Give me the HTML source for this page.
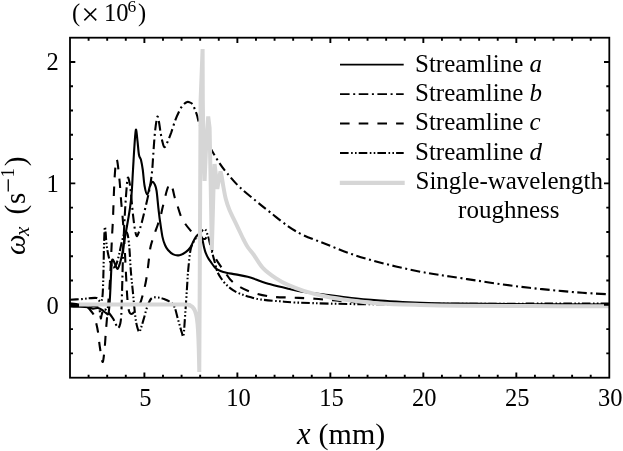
<!DOCTYPE html>
<html><head><meta charset="utf-8"><style>
html,body{margin:0;padding:0;background:#fff;}
svg{display:block;will-change:transform;}
text{font-family:"Liberation Serif",serif;fill:#000;}
</style></head><body>
<svg width="623" height="451" viewBox="0 0 623 451">
<rect x="0" y="0" width="623" height="451" fill="#fff"/>
<g fill="none" stroke-linejoin="round">
<path d="M70.0,306.5 C71.7,306.6 77.0,306.7 80.0,306.8 C83.0,306.9 85.8,307.0 88.0,307.3 C90.2,307.6 91.3,308.5 93.0,308.6 C94.7,308.7 96.5,307.8 98.0,308.0 C99.5,308.2 100.7,309.2 102.0,310.0 C103.3,310.8 104.9,312.4 106.0,313.0 C107.1,313.6 107.9,315.7 108.5,313.5 C109.1,311.3 109.4,305.6 109.8,300.0 C110.2,294.4 110.5,286.2 110.8,280.0 C111.1,273.8 111.4,266.4 111.7,263.0 C112.0,259.6 112.3,259.4 112.8,259.5 C113.3,259.6 114.0,261.9 114.8,263.5 C115.6,265.1 116.6,269.1 117.5,269.0 C118.4,268.9 119.2,265.3 120.0,263.0 C120.8,260.7 121.3,258.3 122.0,255.0 C122.7,251.7 123.2,247.8 124.0,243.0 C124.8,238.2 126.0,231.5 127.0,226.0 C128.0,220.5 128.9,215.2 129.7,210.0 C130.4,204.8 130.9,201.7 131.5,195.0 C132.1,188.3 132.5,178.3 133.0,170.0 C133.5,161.7 134.0,151.8 134.5,145.0 C135.0,138.2 135.4,130.2 135.9,129.5 C136.4,128.8 137.0,136.8 137.5,141.0 C138.0,145.2 138.4,151.8 139.0,155.0 C139.6,158.2 140.4,157.5 141.0,160.0 C141.6,162.5 142.2,165.7 142.8,170.0 C143.4,174.3 143.8,181.9 144.6,186.0 C145.3,190.1 146.4,194.5 147.3,194.5 C148.2,194.5 149.1,188.1 150.0,186.0 C150.9,183.9 151.8,182.0 152.6,181.8 C153.4,181.6 154.3,183.5 155.0,185.0 C155.7,186.5 156.0,187.0 156.6,191.0 C157.2,195.0 157.9,204.0 158.5,209.0 C159.1,214.0 159.3,216.4 160.0,221.0 C160.7,225.6 161.6,232.6 162.4,236.6 C163.2,240.6 164.1,242.8 165.0,245.0 C165.9,247.2 166.6,248.4 168.0,250.0 C169.4,251.6 171.4,253.5 173.3,254.4 C175.2,255.3 177.4,255.6 179.5,255.2 C181.6,254.8 183.9,253.4 185.7,252.1 C187.5,250.8 189.0,249.5 190.4,247.4 C191.8,245.3 193.1,241.7 194.2,239.7 C195.3,237.7 196.1,236.4 197.0,235.5 C197.9,234.6 198.7,233.6 199.5,234.0 C200.3,234.4 201.2,235.8 202.0,238.0 C202.8,240.2 203.4,244.6 204.0,247.0 C204.6,249.4 204.8,250.6 205.5,252.4 C206.2,254.2 207.1,256.1 208.0,257.8 C208.9,259.5 210.1,261.0 211.1,262.4 C212.1,263.8 213.0,265.1 214.0,266.3 C215.0,267.5 215.6,268.4 217.2,269.3 C218.8,270.2 220.2,271.1 223.3,272.0 C226.4,272.9 231.4,273.6 235.5,274.4 C239.6,275.2 244.3,275.9 247.7,276.8 C251.1,277.7 252.2,278.2 256.0,279.5 C259.8,280.8 265.0,282.8 270.4,284.3 C275.8,285.8 282.6,287.4 288.2,288.7 C293.8,290.0 297.4,291.0 303.7,292.0 C309.9,293.0 317.8,293.8 325.7,294.8 C333.6,295.8 342.3,297.0 351.4,298.0 C360.4,299.0 371.4,299.9 380.0,300.6 C388.6,301.3 394.6,301.6 402.7,302.0 C410.8,302.4 418.8,302.7 428.4,303.0 C437.9,303.3 443.1,303.4 460.0,303.6 C476.9,303.8 505.2,304.1 530.0,304.2 C554.8,304.3 595.8,304.4 609.0,304.5" stroke="#000" stroke-width="2.1"/>
<path d="M70.0,305.5 C73.3,305.6 85.7,305.7 90.0,305.8 C94.3,305.9 94.5,305.8 96.0,306.2 C97.5,306.6 98.1,306.9 98.8,308.0 C99.5,309.1 99.8,311.2 100.1,313.0 C100.4,314.8 100.5,318.2 100.8,318.5 C101.1,318.8 101.3,315.9 101.8,314.5 C102.2,313.1 102.8,310.6 103.5,309.8 C104.2,309.0 105.1,309.3 106.0,309.8 C106.9,310.3 107.8,311.5 109.0,313.0 C110.2,314.5 112.1,317.1 113.2,318.8 C114.3,320.6 114.7,322.0 115.5,323.5 C116.3,325.0 117.2,328.0 118.0,328.0 C118.8,328.0 119.8,325.7 120.3,323.5 C120.8,321.3 121.0,318.9 121.3,315.0 C121.5,311.1 121.6,305.5 121.8,300.0 C122.0,294.5 122.1,288.3 122.3,282.0 C122.5,275.7 122.6,269.0 122.8,262.0 C123.0,255.0 123.3,247.8 123.6,240.0 C123.9,232.2 124.3,223.0 124.8,215.0 C125.2,207.0 125.8,198.2 126.3,192.0 C126.8,185.8 127.2,179.7 127.7,178.0 C128.2,176.3 128.8,179.3 129.4,182.0 C130.0,184.7 130.4,188.2 131.0,194.0 C131.6,199.8 132.5,210.5 133.2,216.5 C133.9,222.5 134.4,226.8 135.0,230.0 C135.6,233.2 136.0,235.5 136.6,236.0 C137.2,236.5 137.8,234.8 138.5,233.0 C139.2,231.2 139.8,229.5 141.0,225.3 C142.2,221.1 143.9,213.9 145.4,207.6 C146.9,201.3 148.7,193.6 149.8,187.7 C150.9,181.8 151.4,177.6 152.0,172.0 C152.6,166.4 152.8,161.0 153.3,154.0 C153.8,147.0 154.5,136.2 155.2,130.0 C155.9,123.8 156.8,118.1 157.4,116.8 C158.0,115.5 158.5,119.4 159.0,122.0 C159.5,124.6 160.0,129.3 160.6,132.6 C161.2,135.9 161.8,139.6 162.5,142.0 C163.2,144.4 163.7,147.2 164.5,147.2 C165.3,147.2 166.4,144.4 167.5,142.0 C168.6,139.6 169.9,136.1 171.2,132.6 C172.4,129.1 173.7,124.5 175.0,121.0 C176.3,117.5 177.9,114.0 179.2,111.3 C180.5,108.6 181.7,106.5 183.0,105.0 C184.3,103.5 186.0,102.4 187.2,102.0 C188.4,101.6 189.3,102.2 190.3,102.6 C191.3,103.0 192.2,103.4 193.0,104.6 C193.8,105.8 194.3,108.2 195.0,110.0 C195.7,111.8 196.3,113.1 197.0,115.3 C197.7,117.5 198.0,120.2 199.0,123.0 C200.0,125.8 201.7,129.0 203.0,132.0 C204.3,135.0 205.7,138.1 207.0,141.0 C208.3,143.9 209.1,145.6 211.1,149.2 C213.1,152.8 216.4,158.5 219.1,162.5 C221.8,166.5 223.6,169.0 227.1,173.2 C230.6,177.4 235.2,182.9 240.0,187.5 C244.8,192.1 250.9,196.8 256.0,201.0 C261.1,205.2 265.0,208.3 270.4,212.5 C275.8,216.7 282.6,222.5 288.2,226.3 C293.8,230.1 297.4,232.4 303.7,235.3 C309.9,238.2 317.8,240.9 325.7,244.0 C333.6,247.1 342.8,251.1 351.4,254.0 C359.9,256.9 368.4,259.4 377.0,261.7 C385.6,264.0 394.1,266.1 402.7,268.0 C411.3,269.9 420.5,271.8 428.4,273.2 C436.3,274.6 442.0,275.3 450.0,276.5 C458.0,277.7 467.7,279.2 476.5,280.5 C485.3,281.8 494.2,283.3 503.0,284.5 C511.8,285.7 520.6,286.8 529.4,287.8 C538.2,288.8 547.2,289.7 556.0,290.5 C564.8,291.3 573.6,292.2 582.4,292.8 C591.2,293.4 604.6,294.1 609.0,294.3" stroke="#000" stroke-width="2.1" stroke-dasharray="9.6 3.6 2 3.5"/>
<path d="M69.5,303.3 C71.0,303.5 76.2,304.1 78.8,304.5 C81.4,304.9 83.4,304.9 85.0,305.5 C86.6,306.1 87.4,307.1 88.4,308.0 C89.4,308.9 90.1,309.8 91.0,311.0 C91.9,312.2 92.9,312.8 93.8,315.0 C94.7,317.2 95.7,321.2 96.4,324.0 C97.1,326.8 97.4,328.0 98.0,332.0 C98.6,336.0 99.2,343.0 100.0,348.0 C100.8,353.0 101.8,361.7 102.6,362.0 C103.3,362.3 103.9,355.3 104.5,350.0 C105.1,344.7 105.4,337.3 106.0,330.0 C106.6,322.7 107.3,314.3 108.0,306.0 C108.7,297.7 109.3,291.5 110.0,280.0 C110.7,268.5 111.5,247.3 112.0,237.0 C112.5,226.7 112.6,227.8 113.0,218.0 C113.4,208.2 114.0,187.8 114.6,178.0 C115.2,168.2 116.0,159.0 116.8,159.5 C117.6,160.0 118.8,173.8 119.6,181.0 C120.3,188.2 120.7,196.2 121.3,203.0 C121.9,209.8 122.4,214.2 123.0,222.0 C123.6,229.8 124.2,240.3 124.8,250.0 C125.3,259.7 125.8,271.7 126.3,280.0 C126.8,288.3 127.0,294.8 127.5,300.0 C128.0,305.2 128.3,308.7 129.0,311.0 C129.7,313.3 130.5,314.0 131.5,314.0 C132.5,314.0 133.6,312.7 135.0,311.0 C136.4,309.3 138.6,306.9 140.0,303.7 C141.4,300.5 142.4,296.3 143.5,292.0 C144.6,287.7 145.7,283.0 146.5,278.0 C147.3,273.0 148.0,267.0 148.6,262.0 C149.2,257.0 149.7,251.7 150.3,248.0 C151.0,244.3 151.7,242.6 152.5,240.0 C153.3,237.4 154.1,235.2 155.0,232.5 C155.9,229.8 157.1,226.8 158.0,224.0 C158.9,221.2 159.9,218.4 160.7,215.7 C161.5,212.9 162.0,210.1 162.6,207.5 C163.2,204.9 163.8,202.9 164.5,200.0 C165.2,197.1 166.1,192.7 167.0,190.0 C167.9,187.3 168.8,184.1 169.7,183.8 C170.6,183.6 171.7,186.2 172.5,188.5 C173.3,190.8 174.0,195.1 174.8,197.8 C175.6,200.5 176.2,201.6 177.2,204.7 C178.2,207.8 179.7,213.3 181.0,216.4 C182.3,219.5 183.4,221.2 185.0,223.5 C186.6,225.8 188.7,228.4 190.4,230.4 C192.1,232.4 193.4,234.2 195.0,235.5 C196.6,236.8 198.3,237.4 200.0,238.0 C201.7,238.6 203.6,239.3 205.0,239.0 C206.4,238.7 207.3,233.8 208.6,236.0 C209.9,238.2 211.4,248.2 212.6,252.0 C213.8,255.8 214.8,256.8 216.0,259.0 C217.2,261.2 218.6,263.3 219.9,265.2 C221.2,267.1 221.8,267.7 223.9,270.5 C226.0,273.3 228.6,278.6 232.7,282.0 C236.8,285.4 242.0,288.6 248.3,291.0 C254.6,293.4 263.0,295.4 270.4,296.5 C277.8,297.6 285.2,297.2 292.6,297.6 C300.0,298.0 307.1,298.1 315.0,298.7 C322.9,299.3 329.2,300.2 340.0,301.0 C350.8,301.8 361.7,302.9 380.0,303.5 C398.3,304.1 411.8,304.3 450.0,304.5 C488.2,304.7 582.5,304.8 609.0,304.8" stroke="#000" stroke-width="2.1" stroke-dasharray="9.6 9.1"/>
<path d="M70.0,299.7 C71.7,299.6 76.8,299.4 80.0,299.2 C83.2,299.0 86.2,298.5 89.0,298.3 C91.8,298.1 95.0,297.6 96.7,298.0 C98.4,298.4 98.2,300.0 99.0,300.5 C99.8,301.0 100.9,302.4 101.5,301.0 C102.1,299.6 102.5,297.2 102.8,292.0 C103.1,286.8 103.3,277.8 103.5,270.0 C103.7,262.2 103.8,252.1 104.0,245.0 C104.2,237.9 104.5,229.7 104.8,227.5 C105.1,225.3 105.3,229.4 105.6,232.0 C105.9,234.6 106.0,239.2 106.4,243.0 C106.8,246.8 107.5,251.2 108.2,254.5 C108.9,257.8 109.7,260.8 110.5,263.0 C111.3,265.2 112.1,267.2 113.0,267.5 C113.9,267.8 115.0,267.1 116.0,265.0 C117.0,262.9 118.0,259.0 119.0,255.0 C120.0,251.0 121.0,244.8 122.0,241.0 C123.0,237.2 124.1,233.7 125.0,232.5 C125.9,231.3 126.8,231.6 127.5,234.0 C128.2,236.4 128.7,240.5 129.3,247.0 C129.9,253.5 130.3,264.9 131.0,273.0 C131.7,281.1 132.5,287.9 133.2,295.3 C133.9,302.7 134.7,311.9 135.4,317.4 C136.1,322.8 136.8,325.6 137.5,328.0 C138.2,330.4 138.7,332.0 139.3,332.0 C139.9,332.0 140.2,330.3 141.0,328.0 C141.8,325.7 143.0,321.4 144.0,318.0 C145.0,314.6 145.8,310.6 147.1,307.3 C148.3,304.0 149.7,300.0 151.5,298.4 C153.3,296.8 155.6,297.4 157.7,297.5 C159.8,297.6 161.9,298.2 164.0,299.0 C166.1,299.8 168.4,300.6 170.2,302.0 C172.0,303.4 173.3,304.4 174.6,307.3 C175.9,310.2 176.9,315.6 178.1,319.7 C179.3,323.8 180.8,329.5 181.7,332.1 C182.6,334.8 182.9,338.6 183.5,335.6 C184.1,332.6 184.6,322.3 185.2,314.3 C185.8,306.3 186.5,295.1 187.0,287.7 C187.5,280.3 187.6,276.2 188.2,270.0 C188.8,263.8 189.6,255.0 190.4,250.5 C191.2,246.0 192.1,245.1 193.0,243.0 C193.9,240.9 194.8,239.7 196.0,238.0 C197.2,236.3 198.8,234.3 200.0,233.0 C201.2,231.7 202.1,230.6 203.0,230.0 C203.9,229.4 204.5,228.4 205.3,229.5 C206.2,230.6 207.2,233.6 208.1,236.3 C209.0,239.1 209.8,243.1 210.5,246.0 C211.2,248.9 211.8,251.2 212.6,254.0 C213.3,256.8 214.2,260.1 215.0,263.0 C215.8,265.9 216.2,268.8 217.2,271.3 C218.2,273.8 219.5,275.9 220.9,278.0 C222.3,280.1 223.7,282.1 225.7,284.1 C227.7,286.1 230.6,288.6 233.0,290.2 C235.4,291.8 237.6,292.8 240.4,293.9 C243.2,295.0 246.8,296.1 250.1,297.0 C253.3,297.9 254.9,298.7 259.9,299.4 C264.9,300.1 273.3,300.8 280.0,301.3 C286.7,301.9 286.0,302.2 300.0,302.7 C314.0,303.2 339.0,304.0 364.0,304.2 C389.0,304.4 409.2,303.9 450.0,303.8 C490.8,303.7 582.5,303.6 609.0,303.6" stroke="#000" stroke-width="2.1" stroke-dasharray="8.6 2.5 1.6 2.3 1.6 2.1"/>
<path d="M79.0,304.4 C90.8,304.4 132.2,304.5 150.0,304.5 C167.8,304.5 179.4,304.4 186.0,304.6 C192.6,304.8 188.4,305.1 189.5,305.5 C190.6,305.9 191.6,306.1 192.5,307.0 C193.4,307.9 194.3,309.2 195.0,311.0 C195.7,312.8 196.3,314.8 196.8,318.0 C197.3,321.2 197.7,324.7 198.0,330.0 C198.3,335.3 198.6,343.0 198.8,350.0 C199.0,357.0 199.2,368.3 199.3,372.0 L200.6,100.0 L202.6,49.0 L202.8,100.0 L203.4,150.0 L204.6,181.0 L206.4,140.0 L208.2,116.5 L209.6,128.0 L210.8,190.0 L211.8,250.0 L212.6,222.0 L213.5,188.0 L214.6,164.0 L216.0,176.0 L217.3,189.0 L218.8,180.0 L220.5,171.5 C220.7,172.2 221.1,173.3 221.6,176.0 C222.1,178.7 222.8,183.7 223.5,187.5 C224.2,191.3 224.8,195.2 225.8,199.0 C226.8,202.8 227.7,205.6 229.5,210.0 C231.3,214.4 234.4,220.3 236.8,225.3 C239.2,230.3 241.9,236.3 243.8,240.0 C245.7,243.7 246.3,245.0 248.0,247.5 C249.7,250.0 251.4,251.6 253.9,255.0 C256.4,258.4 259.2,263.9 262.8,267.8 C266.4,271.7 271.4,275.2 275.7,278.1 C280.0,281.0 283.8,283.1 288.5,285.2 C293.2,287.3 297.5,288.9 303.7,290.8 C309.9,292.7 317.8,294.9 325.7,296.5 C333.6,298.1 342.3,299.3 351.4,300.5 C360.4,301.7 368.6,302.8 380.0,303.5 C391.4,304.2 406.7,304.6 420.0,305.0 C433.3,305.4 441.7,305.6 460.0,305.8 C478.3,306.0 505.2,306.0 530.0,306.1 C554.8,306.2 595.8,306.2 609.0,306.2" stroke="#d6d6d6" stroke-width="4" stroke-linejoin="miter" stroke-miterlimit="2"/>
</g>
<g stroke="#000" fill="none">
<path d="M88.60,377.70v-3.0M88.60,37.70v3.0M107.19,377.70v-3.0M107.19,37.70v3.0M125.79,377.70v-3.0M125.79,37.70v3.0M144.39,377.70v-5.3M144.39,37.70v5.3M162.99,377.70v-3.0M162.99,37.70v3.0M181.58,377.70v-3.0M181.58,37.70v3.0M200.18,377.70v-3.0M200.18,37.70v3.0M218.78,377.70v-3.0M218.78,37.70v3.0M237.37,377.70v-5.3M237.37,37.70v5.3M255.97,377.70v-3.0M255.97,37.70v3.0M274.57,377.70v-3.0M274.57,37.70v3.0M293.16,377.70v-3.0M293.16,37.70v3.0M311.76,377.70v-3.0M311.76,37.70v3.0M330.36,377.70v-5.3M330.36,37.70v5.3M348.96,377.70v-3.0M348.96,37.70v3.0M367.55,377.70v-3.0M367.55,37.70v3.0M386.15,377.70v-3.0M386.15,37.70v3.0M404.75,377.70v-3.0M404.75,37.70v3.0M423.34,377.70v-5.3M423.34,37.70v5.3M441.94,377.70v-3.0M441.94,37.70v3.0M460.54,377.70v-3.0M460.54,37.70v3.0M479.13,377.70v-3.0M479.13,37.70v3.0M497.73,377.70v-3.0M497.73,37.70v3.0M516.33,377.70v-5.3M516.33,37.70v5.3M534.92,377.70v-3.0M534.92,37.70v3.0M553.52,377.70v-3.0M553.52,37.70v3.0M572.12,377.70v-3.0M572.12,37.70v3.0M590.72,377.70v-3.0M590.72,37.70v3.0M70.00,353.37h3.0M609.30,353.37h-3.0M70.00,329.09h3.0M609.30,329.09h-3.0M70.00,304.80h5.3M609.30,304.80h-5.3M70.00,280.51h3.0M609.30,280.51h-3.0M70.00,256.23h3.0M609.30,256.23h-3.0M70.00,231.94h3.0M609.30,231.94h-3.0M70.00,207.66h3.0M609.30,207.66h-3.0M70.00,183.37h5.3M609.30,183.37h-5.3M70.00,159.08h3.0M609.30,159.08h-3.0M70.00,134.80h3.0M609.30,134.80h-3.0M70.00,110.51h3.0M609.30,110.51h-3.0M70.00,86.23h3.0M609.30,86.23h-3.0M70.00,61.94h5.3M609.30,61.94h-5.3" stroke-width="1.9"/>
<rect x="70.0" y="37.7" width="539.30" height="340.00" stroke-width="1.8"/>
</g>
<g font-size="24.5"><text x="145.4" y="405.8" text-anchor="middle">5</text><text x="238.4" y="405.8" text-anchor="middle">10</text><text x="331.4" y="405.8" text-anchor="middle">15</text><text x="424.3" y="405.8" text-anchor="middle">20</text><text x="517.3" y="405.8" text-anchor="middle">25</text><text x="610.3" y="405.8" text-anchor="middle">30</text><text x="58.8" y="314.3" text-anchor="end">0</text><text x="58.8" y="191.6" text-anchor="end">1</text><text x="58.8" y="70.1" text-anchor="end">2</text></g>
<g font-size="24.5"><text x="72" y="20.7">(</text><text x="81.3" y="25.3" font-size="32">×</text><text x="104" y="20.7">10</text><text x="127.5" y="12" font-size="17.5">6</text><text x="138" y="20.7">)</text></g>
<text x="297" y="444" font-size="30.5" font-style="italic">x</text><text x="318.6" y="444" font-size="30">(mm)</text>
<g transform="translate(24.5,254.6) rotate(-90)"><text x="-0.5" y="0" font-size="29" font-style="italic">ω</text><text x="18.5" y="4.6" font-size="21" font-style="italic">x</text><text x="40.2" y="0" font-size="29">(</text><text x="50.6" y="0" font-size="29">s</text><rect x="63.1" y="-16.9" width="12.2" height="1.3" fill="#000"/><text x="77" y="-10.7" font-size="18.8">1</text><text x="88.3" y="0" font-size="29">)</text></g>
<g fill="none">
<path d="M340,64.6H403.7" stroke="#000" stroke-width="1.8"/>
<path d="M340,94.1H403.7" stroke="#000" stroke-width="1.8" stroke-dasharray="9.6 3.6 2 3.5"/>
<path d="M340,123.5H403.7" stroke="#000" stroke-width="1.8" stroke-dasharray="9.6 9.1"/>
<path d="M340,153.0H403.7" stroke="#000" stroke-width="1.8" stroke-dasharray="8.6 2.5 1.6 2.3 1.6 2.1"/>
<path d="M339.8,182.8H404.7" stroke="#d6d6d6" stroke-width="4.2"/>
</g>
<g font-size="25">
<text x="415" y="72.2">Streamline <tspan font-style="italic">a</tspan></text>
<text x="415" y="101.3">Streamline <tspan font-style="italic">b</tspan></text>
<text x="415" y="130.4">Streamline <tspan font-style="italic">c</tspan></text>
<text x="415" y="159.5">Streamline <tspan font-style="italic">d</tspan></text>
<text x="415.5" y="188.5">Single-wavelength</text>
<text x="508.8" y="217.5" text-anchor="middle">roughness</text>
</g>
</svg>
</body></html>
